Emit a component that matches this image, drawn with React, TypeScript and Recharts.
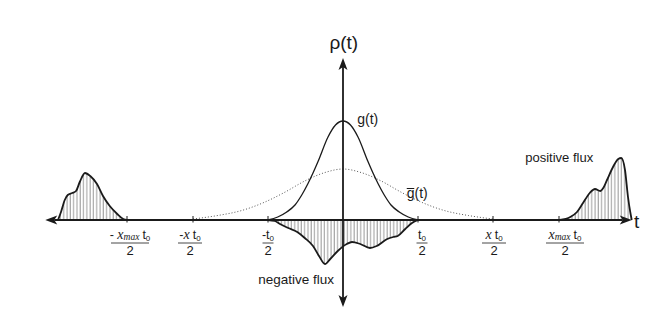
import React from 'react';
import {
  ComposedChart,
  Line,
  Area,
  XAxis,
  YAxis,
  ReferenceLine,
  ReferenceDot
} from 'recharts';

// t is measured in units of t0/2, values are heights above the t-axis
const gT = [-1, -0.87, -0.75, -0.64, -0.55, -0.47, -0.4, -0.33, -0.2, -0.1, 0, 0.1, 0.2, 0.33, 0.4, 0.47, 0.55, 0.64, 0.75, 0.87, 1];
const gV = [0, 3, 8, 15, 25, 36, 47, 59, 83, 95, 99, 95, 83, 59, 47, 36, 25, 15, 8, 3, 0];

const gBarT = [-2, -1.67, -1.35, -1.04, -0.77, -0.51, -0.24, 0, 0.24, 0.51, 0.77, 1.04, 1.35, 1.67, 2];
const gBarV = [1, 4.5, 9.5, 18, 28, 39, 47.5, 51, 47.5, 39, 28, 18, 9.5, 4.5, 1];

const leftFluxT = [-3.8, -3.76, -3.71, -3.67, -3.61, -3.56, -3.51, -3.44, -3.37, -3.28, -3.2, -3.11, -3.01, -2.93, -2.88];
const leftFluxV = [0, 8, 20, 25, 27, 29, 38, 47, 44, 36, 24, 14, 6, 1, 0];

const rightFluxT = [2.89, 3.03, 3.12, 3.2, 3.29, 3.36, 3.43, 3.47, 3.52, 3.6, 3.67, 3.71, 3.76, 3.8, 3.83, 3.85];
const rightFluxV = [0, 3, 8, 17, 27, 31, 29, 32, 40, 53, 61, 62, 50, 23, 8, 0];

const negFluxT = [-1, -0.91, -0.84, -0.73, -0.61, -0.51, -0.4, -0.32, -0.24, -0.17, -0.07, 0.05, 0.12, 0.23, 0.36, 0.45, 0.59, 0.67, 0.73, 0.83, 0.92, 1];
const negFluxV = [0, -1, -4, -8, -12, -18, -26, -36, -44, -39, -31, -24, -22, -24, -28, -26, -19, -17, -16, -9, -3, 0];

// tick positions and their fraction labels  (sign, factor) t0 / 2
const tickT = [-2.88, -2, -1, 1, 2, 2.88];
const tickSign = ['- ', '-', '-', '', '', ''];
const tickFactor = ['x_max', 'x', '', '', 'x', 'x_max'];
const tickDenominator = '2';

const rows = (ts: number[], vs: number[]) => ts.map((t, i) => ({ t, v: vs[i] }));

const gData = rows(gT, gV);
const gBarData = rows(gBarT, gBarV);
const leftFlux = rows(leftFluxT, leftFluxV);
const rightFlux = rows(rightFluxT, rightFluxV);
const negFlux = rows(negFluxT, negFluxV);

const SANS = '"Liberation Sans", Arial, Helvetica, sans-serif';
const SERIF = '"Liberation Serif", "Times New Roman", serif';
const INK = '#1a1a1a';

// small horizontal nudges of the fraction labels relative to their tick
const labelShift = [3, -3, 0, 4, 1, 6];

const ArrowAxis = (props: any) => {
  const { x1, y1, x2, y2 } = props;
  const ang = Math.atan2(y2 - y1, x2 - x1);
  const L = 12, W = 4.5, N = 9;
  const head = (x: number, y: number, a: number) => {
    const c = Math.cos(a), s = Math.sin(a);
    const pt = (u: number, v: number) => `${x - u * c - v * s},${y - u * s + v * c}`;
    return <polygon points={[pt(0, 0), pt(L, W), pt(N, 0), pt(L, -W)].join(' ')} fill={INK} />;
  };
  const c = Math.cos(ang), s = Math.sin(ang);
  return (
    <g>
      <line
        x1={x1 + N * c}
        y1={y1 + N * s}
        x2={x2 - N * c}
        y2={y2 - N * s}
        stroke={INK}
        strokeWidth={1.8}
      />
      {head(x2, y2, ang)}
      {head(x1, y1, ang + Math.PI)}
    </g>
  );
};

const FractionTick = ({ cx, cy, idx }: any) => {
  const sign = tickSign[idx];
  const factor = tickFactor[idx];
  const x = cx + labelShift[idx];
  const half = factor === 'x_max' ? 19 : factor === 'x' ? 12 : 5.5;
  return (
    <g>
      <line x1={cx} x2={cx} y1={cy - 4} y2={cy + 2.5} stroke={INK} strokeWidth={1} />
      <text x={x} y={cy + 18.5} textAnchor="middle" fontFamily={SANS} fontSize={12.5} fill={INK}>
        {sign ? <tspan>{sign}</tspan> : null}
        {factor ? (
          <tspan fontFamily={SERIF} fontStyle="italic" fontSize={14}>x</tspan>
        ) : null}
        {factor === 'x_max' ? (
          <tspan fontFamily={SERIF} fontStyle="italic" fontSize={9.5} dy={1}>max</tspan>
        ) : null}
        <tspan dx={factor ? 3 : 0} dy={factor === 'x_max' ? -1 : 0}>t</tspan>
        <tspan fontSize={8} dy={2}>0</tspan>
      </text>
      <line x1={x - half} x2={x + half} y1={cy + 23} y2={cy + 23} stroke={INK} strokeWidth={0.8} />
      <text x={x} y={cy + 35} textAnchor="middle" fontFamily={SANS} fontSize={13} fill={INK}>
        {tickDenominator}
      </text>
    </g>
  );
};

const Label = ({ cx, cy, text, size, anchor, bar }: any) => (
  <g>
    <text x={cx} y={cy} fontSize={size} textAnchor={anchor || 'start'} fontFamily={SANS} fill={INK}>
      {text}
    </text>
    {bar ? <line x1={cx} x2={cx + 7.5} y1={cy - 9.5} y2={cy - 9.5} stroke={INK} strokeWidth={1} /> : null}
  </g>
);

const App: React.FC = () => {
  return (
    <div style={{ position: 'fixed', left: 0, top: 0, width: 667, height: 319, background: '#fff' }}>
      <ComposedChart width={667} height={319} margin={{ top: 58, right: 24, bottom: 12, left: 43 }}>
        <defs>
          <pattern id="hatch" width="3.3" height="10" patternUnits="userSpaceOnUse">
            <line x1="1" y1="0" x2="1" y2="10" stroke="#8c8c8c" strokeWidth="0.9" />
          </pattern>
        </defs>
        <XAxis type="number" dataKey="t" domain={[-4, 4]} hide allowDataOverflow />
        <YAxis type="number" dataKey="v" domain={[-87, 162]} hide allowDataOverflow />

        <Area data={leftFlux} dataKey="v" type="monotone" baseValue={0} stroke={INK} strokeWidth={1.8} fill="url(#hatch)" fillOpacity={1} isAnimationActive={false} />
        <Area data={rightFlux} dataKey="v" type="monotone" baseValue={0} stroke={INK} strokeWidth={1.8} fill="url(#hatch)" fillOpacity={1} isAnimationActive={false} />
        <Area data={negFlux} dataKey="v" type="monotone" baseValue={0} stroke={INK} strokeWidth={1.8} fill="url(#hatch)" fillOpacity={1} isAnimationActive={false} />

        <Line data={gBarData} dataKey="v" type="monotone" stroke="#555" strokeWidth={1} strokeDasharray="1 2" dot={false} isAnimationActive={false} />
        <Line data={gData} dataKey="v" type="monotone" stroke={INK} strokeWidth={1.3} dot={false} isAnimationActive={false} />

        <ReferenceLine segment={[{ x: -3.97, y: 0 }, { x: 3.85, y: 0 }]} ifOverflow="visible" shape={ArrowAxis} />
        <ReferenceLine segment={[{ x: 0, y: -87 }, { x: 0, y: 162 }]} ifOverflow="visible" shape={ArrowAxis} />

        {tickT.map((t, i) => (
          <ReferenceDot key={`tick-${i}`} x={t} y={0} ifOverflow="visible" shape={(p: any) => <FractionTick {...p} idx={i} />} />
        ))}

        <ReferenceDot x={0.01} y={171} ifOverflow="visible" shape={(p: any) => <Label {...p} text="ρ(t)" size={19} anchor="middle" />} />
        <ReferenceDot x={3.88} y={-8} ifOverflow="visible" shape={(p: any) => <Label {...p} text="t" size={19} />} />
        <ReferenceDot x={0.19} y={96} ifOverflow="visible" shape={(p: any) => <Label {...p} text="g(t)" size={14} />} />
        <ReferenceDot x={0.85} y={22} ifOverflow="visible" shape={(p: any) => <Label {...p} text="g(t)" size={14} bar />} />
        <ReferenceDot x={2.43} y={58} ifOverflow="visible" shape={(p: any) => <Label {...p} text="positive flux" size={13} />} />
        <ReferenceDot x={-1.13} y={-64} ifOverflow="visible" shape={(p: any) => <Label {...p} text="negative flux" size={13.5} />} />
      </ComposedChart>
    </div>
  );
};

export default App;
